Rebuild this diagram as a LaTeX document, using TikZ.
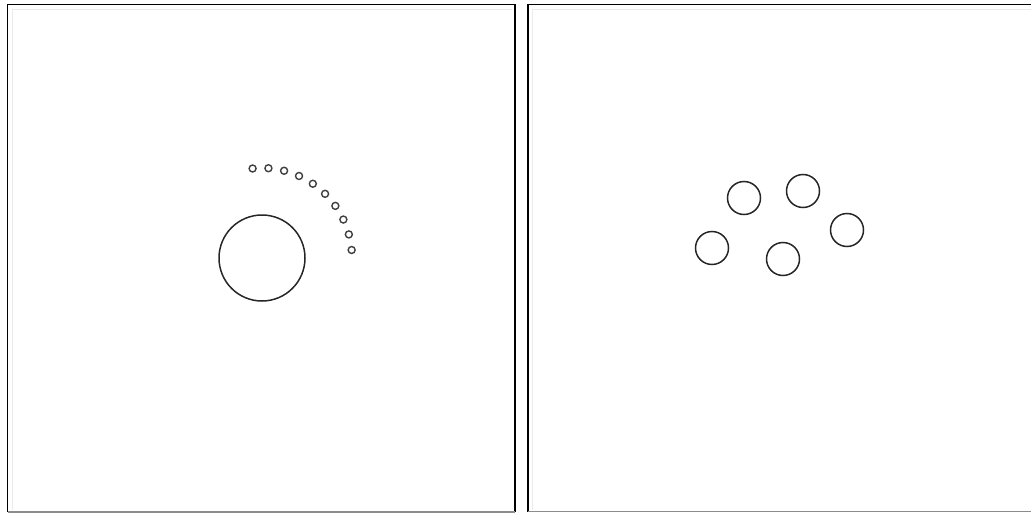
\documentclass[tikz,border=0pt]{standalone}
\usetikzlibrary{calc}
\begin{document}
\begin{tikzpicture}[x=1pt,y=-1pt,
  frame/.style={line width=1.5pt,draw=black},
  framelow/.style={line width=1.5pt,draw=black!45},
  ring/.style={circle,draw=black!85,line width=1.5pt,inner sep=0pt},
  dot/.style={circle,draw=black!75,line width=1.4pt,inner sep=0pt,minimum size=7pt}]
\useasboundingbox (0,0) rectangle (1031,514);
% left panel
\draw[frame] (7.5,512) -- (7.5,4.5) -- (515,4.5) -- (515,512);
\draw[framelow] (7.5,512) -- (515,512);
\draw[black!8,line width=1pt] (12,510) -- (12,9) -- (512,9);
% right panel
\draw[frame] (528,512) -- (528,4.5) -- (1031,4.5);
\draw[framelow] (528,511.5) -- (1031,511.5);
\draw[black!8,line width=1pt] (532,510) -- (532,9) -- (1031,9);
% left content
\node[ring,minimum size=86pt] (big) at (262,258) {};
\foreach \i in {0,...,9} {
  \node[dot] (d\i) at ($(big.center)+({96-10.1*\i}:90 and -90)$) {};
}
% right content
\node[ring,minimum size=33pt] (r1) at (744,198) {};
\node[ring,minimum size=33pt] (r2) at (803,191) {};
\node[ring,minimum size=33pt] (r3) at (847,230) {};
\node[ring,minimum size=33pt] (r4) at (783,259) {};
\node[ring,minimum size=33pt] (r5) at (712,248) {};
\end{tikzpicture}
\end{document}
